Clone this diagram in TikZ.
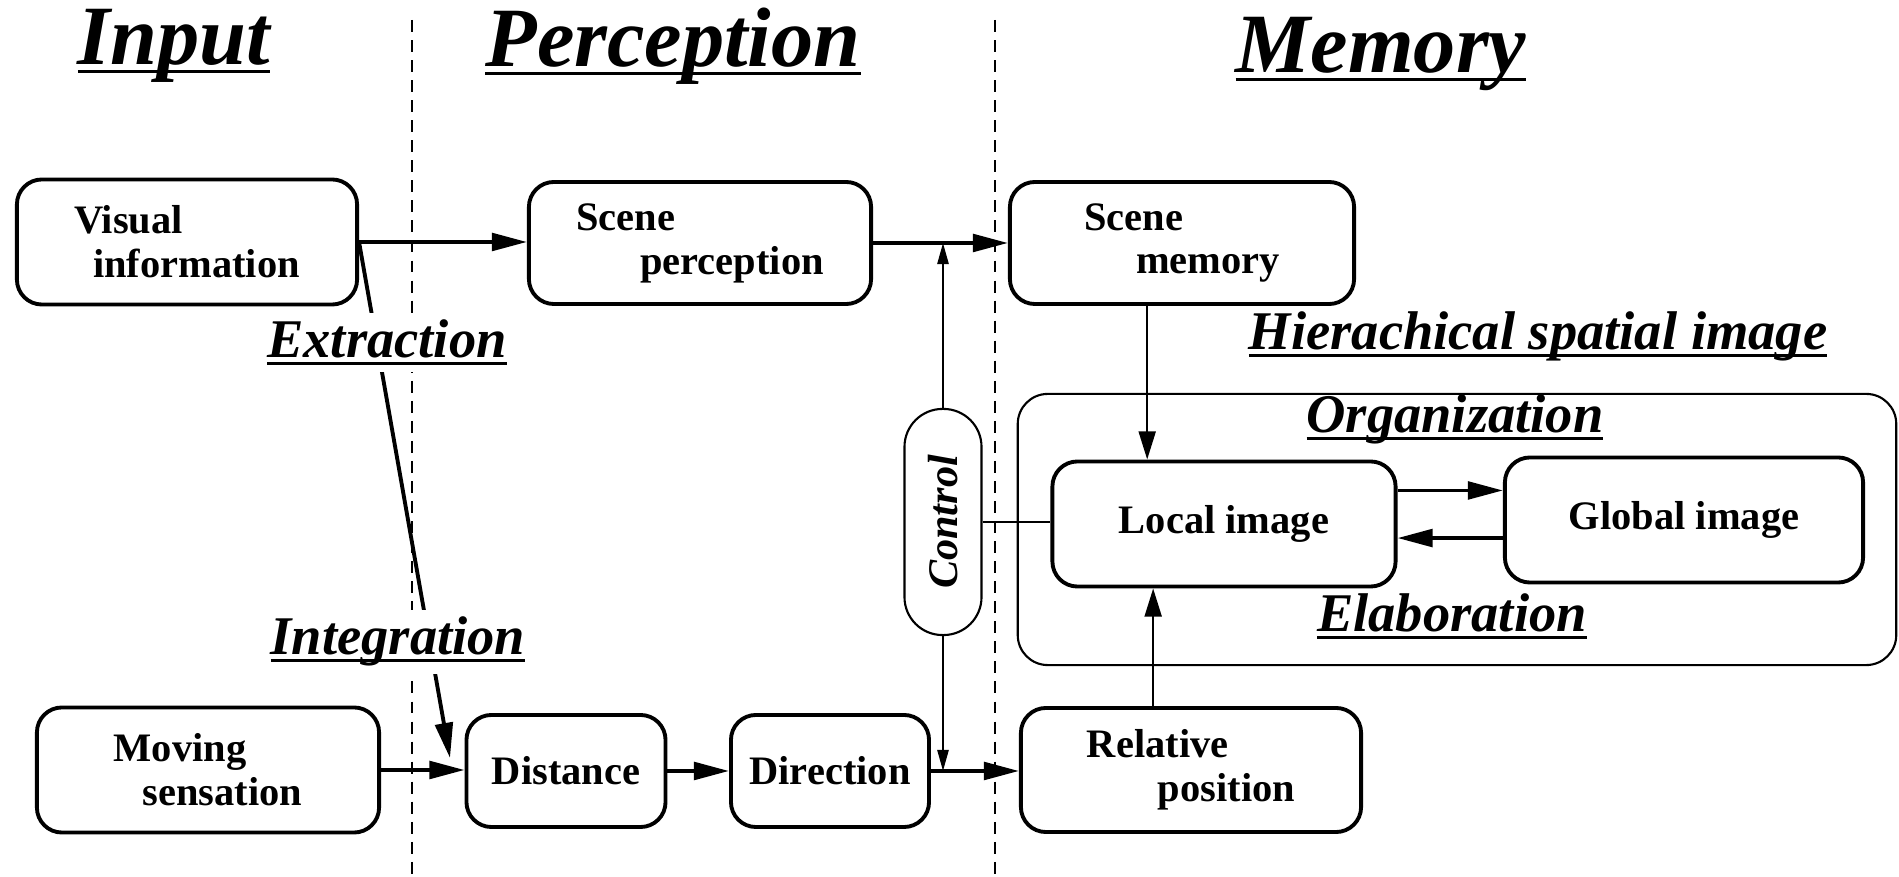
\documentclass[tikz,border=0pt]{standalone}
\usepackage{fontspec}
\usepackage{graphicx}
\setmainfont{Liberation Serif}
\usetikzlibrary{arrows.meta,calc}
\newlength\ulwd
\newcommand\ulh[1]{\settowidth\ulwd{#1}\rlap{\rule[-2.4pt]{\ulwd}{0.9pt}}#1}
\newcommand\uls[1]{\settowidth\ulwd{#1}\rlap{\rule[-1.9pt]{\ulwd}{0.7pt}}#1}

\begin{document}
\begin{tikzpicture}[
  x=0.01cm, y=-0.01cm,
  box/.style={draw,line width=1.1pt,rounded corners=0.25cm,align=left,
              font=\fontsize{11.5}{12.5}\selectfont\bfseries,inner sep=0pt},
  pill/.style={draw,line width=0.6pt,rounded corners=0.38cm,
              minimum width=0.77cm,minimum height=2.26cm,inner sep=0pt,
              font=\fontsize{12}{14}\selectfont\bfseries\itshape},
  hsibox/.style={draw,line width=0.6pt,rounded corners=0.3cm,inner sep=0pt},
  heading/.style={anchor=base,inner sep=0pt,
              font=\fontsize{24}{28}\selectfont\bfseries\itshape},
  tag/.style={anchor=base,inner sep=2pt,
              font=\fontsize{15.5}{18}\selectfont\bfseries\itshape},
  divider/.style={dash pattern=on 3.4pt off 2.3pt,line width=0.6pt},
  arr/.style={-{Triangle[length=10pt,width=5pt]},line width=1.1pt},
  tarr/.style={-{Triangle[length=6pt,width=3.2pt]},line width=0.55pt},
  marr/.style={-{Triangle[length=8pt,width=4.8pt]},line width=0.7pt}
]
\useasboundingbox (0,0) rectangle (1899,877);

\draw[divider] (412,20) -- (412,877);
\draw[divider] (995,20) -- (995,877);

\node[heading] (tin) at (174,65) {\ulh{Input}};
\node[heading] (tper) at (673,67) {\ulh{Perception}};
\node[heading] (tmem) at (1381,73) {\ulh{Memory}};

\node[hsibox,minimum width=8.78cm,minimum height=2.71cm] (hsi) at (1457,529.5) {};

\node[box,minimum width=3.4cm,minimum height=1.25cm] (vis) at (187,242)
  {Visual\\\hspace*{0.19cm}information};
\node[box,minimum width=3.42cm,minimum height=1.22cm] (scp) at (700,243)
  {Scene\\\hspace*{0.64cm}perception};
\node[box,minimum width=3.44cm,minimum height=1.22cm] (scm) at (1182,243)
  {Scene\\\hspace*{0.52cm}memory};
\node[box,minimum width=3.42cm,minimum height=1.25cm] (mov) at (208,770)
  {Moving\\\hspace*{0.29cm}sensation};
\node[box,minimum width=1.99cm,minimum height=1.12cm] (dist) at (566,771) {Distance};
\node[box,minimum width=1.98cm,minimum height=1.12cm] (dir) at (830,771) {Direction};
\node[box,minimum width=3.4cm,minimum height=1.24cm] (rel) at (1191,770)
  {Relative\\\hspace*{0.71cm}position};
\node[box,minimum width=3.43cm,minimum height=1.25cm] (loc) at (1224,524) {Local image};
\node[box,minimum width=3.58cm,minimum height=1.25cm] (glob) at (1684,520) {Global image};
\node[pill] (ctrl) at (943,522) {\rotatebox{90}{Control}};

\coordinate (xin) at (450,758);
\draw[arr] (vis.east) -- (xin);
\draw[arr] (vis.east) -- (vis.east -| scp.west);
\draw[arr] (scp.east) -- (scp.east -| scm.west);
\draw[arr] (mov.east) -- (mov.east -| dist.west);
\draw[arr] (dist.east) -- (dist.east -| dir.west);
\draw[arr] (dir.east) -- (dir.east -| rel.west);
\draw[tarr] (ctrl.north) -- (ctrl.north |- scp.east);
\draw[tarr] (ctrl.south) -- (ctrl.south |- dir.east);
\draw[line width=0.55pt] (ctrl.east) -- (ctrl.east -| loc.west);
\draw[marr] ($(scm.south west)!0.4!(scm.south east)$) coordinate (s1) -- (s1 |- loc.north);
\draw[marr] ($(rel.north west)!0.39!(rel.north east)$) coordinate (r1) -- (r1 |- loc.south);
\draw[arr] ($(loc.north east)!0.24!(loc.south east)$) coordinate (l1) -- (l1 -| glob.west);
\draw[arr] ($(glob.north west)!0.64!(glob.south west)$) coordinate (g1) -- (g1 -| loc.east);

\node[tag,fill=white] (lext) at (387,358) {\uls{Extraction}};
\node[tag,fill=white] (lint) at (398,655) {\uls{Integration}};
\node[tag] (lhsi) at (1538,350) {\uls{Hierachical spatial image}};
\node[tag] (lorg) at (1455,433) {\uls{Organization}};
\node[tag] (lela) at (1452,632) {\uls{Elaboration}};
\end{tikzpicture}
\end{document}
